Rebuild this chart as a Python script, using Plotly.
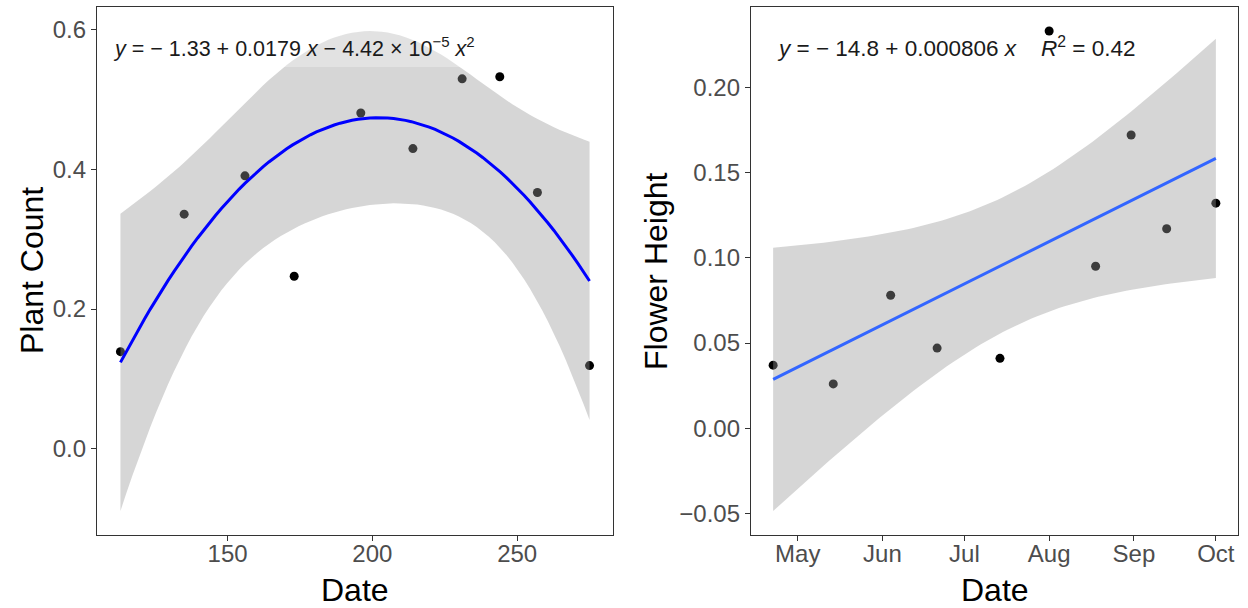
import numpy as np
import pandas as pd
import plotly.graph_objects as go

# ---------------- data ----------------
dates = ["2020-04-22", "2020-05-14", "2020-06-04", "2020-06-21", "2020-07-14",
         "2020-08-01", "2020-08-18", "2020-08-31", "2020-09-13", "2020-10-01"]
plant_count = [0.139, 0.336, 0.391, 0.247, 0.481, 0.430, 0.530, 0.533, 0.367, 0.119]
flower_height = [0.037, 0.026, 0.078, 0.047, 0.041, 0.233, 0.095, 0.172, 0.117, 0.132]

left_xticks = [150, 200, 250]
left_yticks = [0.0, 0.2, 0.4, 0.6]
right_yticks = [-0.05, 0.00, 0.05, 0.10, 0.15, 0.20]
month_ticks = ["2020-05-01", "2020-06-01", "2020-07-01", "2020-08-01", "2020-09-01", "2020-10-01"]
month_labels = ["May", "Jun", "Jul", "Aug", "Sep", "Oct"]

left_eq = "<i>y</i> = − 1.33 + 0.0179 <i>x</i> − 4.42 × 10<sup>−5</sup> <i>x</i><sup>2</sup>"
right_eq = "<i>y</i> = − 14.8 + 0.000806 <i>x</i>\u00a0\u00a0\u00a0\u00a0<i>R</i><sup>2</sup> = 0.42"

# ---------------- stats (lm fit + 95% CI, like geom_smooth) ----------------
dt = pd.to_datetime(dates)
doy = dt.dayofyear.to_numpy().astype(float)
T_DF7 = 2.364624
T_DF8 = 2.306004


def fit(x, y, deg, tcrit, n_grid=80):
    x = np.asarray(x, float)
    y = np.asarray(y, float)
    m = x.mean()
    X = np.vander(x - m, deg + 1, increasing=True)
    beta, *_ = np.linalg.lstsq(X, y, rcond=None)
    resid = y - X @ beta
    dof = len(x) - (deg + 1)
    s2 = resid @ resid / dof
    cov = s2 * np.linalg.inv(X.T @ X)
    g = np.linspace(x.min(), x.max(), n_grid)
    G = np.vander(g - m, deg + 1, increasing=True)
    fv = G @ beta
    se = np.sqrt(np.einsum("ij,jk,ik->i", G, cov, G))
    return g, fv, fv - tcrit * se, fv + tcrit * se


gL, fL, loL, hiL = fit(doy, plant_count, 2, T_DF7)
gR, fR, loR, hiR = fit(doy, flower_height, 1, T_DF8)


def to_dates(d):
    return [(pd.Timestamp("2020-01-01") + pd.to_timedelta(v - 1, unit="D")).isoformat() for v in d]


def expand(lo, hi, f=0.05):
    r = hi - lo
    return [lo - f * r, hi + f * r]


xL_range = expand(doy.min(), doy.max())
yL_range = expand(min(min(plant_count), loL.min()), max(max(plant_count), hiL.max()))
xR_days = expand(doy.min(), doy.max())
xR_range = to_dates(xR_days)
yR_range = expand(min(min(flower_height), loR.min()), max(max(flower_height), hiR.max()))

# ---------------- figure ----------------
W, H = 1248, 608
RIBBON = "rgba(153,153,153,0.4)"
fig = go.Figure()

# left panel
fig.add_trace(go.Scatter(x=doy, y=plant_count, mode="markers", xaxis="x", yaxis="y",
                         marker=dict(color="black", size=9), showlegend=False, hoverinfo="skip"))
fig.add_trace(go.Scatter(x=np.concatenate([gL, gL[::-1]]), y=np.concatenate([hiL, loL[::-1]]),
                         mode="lines", fill="toself", fillcolor=RIBBON, line=dict(width=0),
                         xaxis="x", yaxis="y", showlegend=False, hoverinfo="skip"))
fig.add_trace(go.Scatter(x=gL, y=fL, mode="lines", line=dict(color="#0000FF", width=3),
                         xaxis="x", yaxis="y", showlegend=False, hoverinfo="skip"))

# right panel
xd = to_dates(doy)
fig.add_trace(go.Scatter(x=xd, y=flower_height, mode="markers", xaxis="x2", yaxis="y2",
                         marker=dict(color="black", size=9), showlegend=False, hoverinfo="skip"))
gRd = to_dates(gR)
fig.add_trace(go.Scatter(x=gRd + gRd[::-1], y=np.concatenate([hiR, loR[::-1]]),
                         mode="lines", fill="toself", fillcolor=RIBBON, line=dict(width=0),
                         xaxis="x2", yaxis="y2", showlegend=False, hoverinfo="skip"))
fig.add_trace(go.Scatter(x=gRd, y=fR, mode="lines", line=dict(color="#3366FF", width=3),
                         xaxis="x2", yaxis="y2", showlegend=False, hoverinfo="skip"))

FONT = "Liberation Sans, Arial, Helvetica, sans-serif"
TICKFONT = dict(family=FONT, size=24, color="#4D4D4D")
ax_common = dict(showgrid=False, zeroline=False, showline=True, mirror=True,
                 linecolor="#333333", linewidth=1.3, ticks="outside", ticklen=5,
                 tickwidth=1.3, tickcolor="#333333", tickfont=TICKFONT)

yd = [1 - 535 / H, 1 - 7 / H]
fig.update_layout(
    width=W, height=H,
    margin=dict(l=0, r=0, t=0, b=0),
    paper_bgcolor="white", plot_bgcolor="white",
    showlegend=False,
    xaxis=dict(domain=[97 / W, 613 / W], range=xL_range, tickvals=left_xticks,
               anchor="y", ticklabelstandoff=-8, **ax_common),
    yaxis=dict(domain=yd, range=yL_range, tickvals=left_yticks, tickformat=".1f",
               anchor="x", **ax_common),
    xaxis2=dict(domain=[751 / W, 1238 / W], type="date", range=xR_range,
                tickvals=month_ticks, ticktext=month_labels, anchor="y2",
                ticklabelstandoff=-8, **ax_common),
    yaxis2=dict(domain=yd, range=yR_range, tickvals=right_yticks, tickformat=".2f",
                anchor="x2", **ax_common),
)

TITLEFONT = dict(family=FONT, size=32, color="black")
anns = [
    dict(text="Date", x=355 / W, y=1 - 590 / H, xanchor="center", yanchor="middle"),
    dict(text="Date", x=994.5 / W, y=1 - 590 / H, xanchor="center", yanchor="middle"),
    dict(text="Plant Count", x=32 / W, y=1 - 271 / H, xanchor="center", yanchor="middle", textangle=-90),
    dict(text="Flower Height", x=656 / W, y=1 - 271 / H, xanchor="center", yanchor="middle", textangle=-90),
]
for a in anns:
    fig.add_annotation(xref="paper", yref="paper", showarrow=False, font=TITLEFONT, **a)

# label box (semi-transparent) behind left equation
fig.add_shape(type="rect", xref="paper", yref="paper", x0=105 / W, x1=490 / W,
              y0=1 - 67 / H, y1=1 - 23 / H, fillcolor="rgba(255,255,255,0.3)",
              line=dict(width=0), layer="above")
fig.add_annotation(xref="paper", yref="paper", showarrow=False, text=left_eq,
                   font=dict(family=FONT, size=21.5, color="#1A1A1A"),
                   x=111 / W, y=1 - 47 / H, xanchor="left", yanchor="middle")
fig.add_annotation(xref="paper", yref="paper", showarrow=False, text=right_eq,
                   font=dict(family=FONT, size=22.5, color="#1A1A1A"),
                   x=775 / W, y=1 - 47 / H, xanchor="left", yanchor="middle")

fig.write_html("out.html")
